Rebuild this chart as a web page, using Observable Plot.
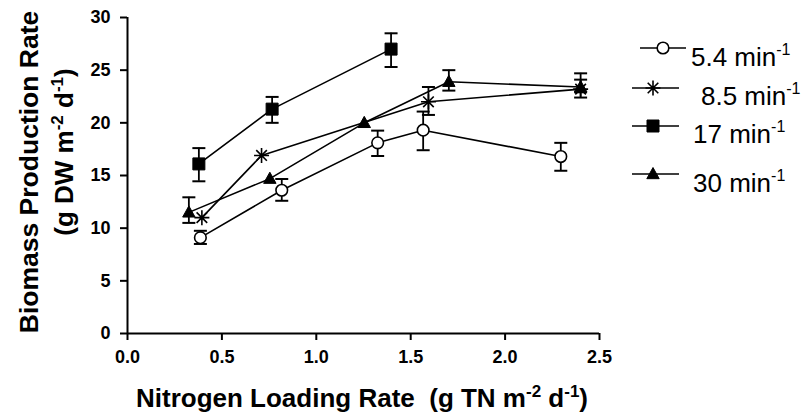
<!DOCTYPE html>
<html><head><meta charset="utf-8">
<script src="https://cdn.jsdelivr.net/npm/d3@7"></script>
<script src="https://cdn.jsdelivr.net/npm/@observablehq/plot@0.6"></script>
<style>
body{margin:0;background:#fff}
</style>
</head><body><div id="chart"></div>
<script>
// ---- data ----
const seriesNames = ["5.4", "8.5", "17", "30"];
const xTicks = [0, 0.5, 1.0, 1.5, 2.0, 2.5];
const yTicks = [0, 5, 10, 15, 20, 25, 30];

const x54 = [0.386, 0.817, 1.325, 1.566, 2.295];
const y54 = [9.1, 13.6, 18.1, 19.3, 16.8];
const lo54 = [8.5, 12.6, 16.85, 17.4, 15.45];
const hi54 = [9.75, 14.67, 19.26, 21.07, 18.1];

const x85 = [0.394, 0.71, 1.594, 2.40];
const y85 = [11.0, 16.9, 22.0, 23.2];
const lo85 = [null, null, 20.75, 22.9];
const hi85 = [null, null, 23.4, 24.1];

const x17 = [0.378, 0.766, 1.396];
const y17 = [16.1, 21.3, 27.0];
const lo17 = [14.45, 20.0, 25.3];
const hi17 = [17.6, 22.46, 28.5];

const x30 = [0.325, 0.754, 1.254, 1.702, 2.40];
const y30 = [11.5, 14.7, 20.0, 23.9, 23.4];
const lo30 = [10.5, null, null, 23.06, 22.4];
const hi30 = [12.93, null, null, 25.0, 24.7];

function rowsOf(name, xs, ys, lo, hi) {
  return xs.map((x, i) => ({series: name, x, y: ys[i], lo: lo[i], hi: hi[i]}));
}
const r54 = rowsOf("5.4", x54, y54, lo54, hi54);
const r85 = rowsOf("8.5", x85, y85, lo85, hi85);
const r17 = rowsOf("17", x17, y17, lo17, hi17);
const r30 = rowsOf("30", x30, y30, lo30, hi30);
const allRows = [...r54, ...r85, ...r17, ...r30];
const errRows = allRows.filter(d => d.lo != null);

// ---- custom symbols (r = half size in px) ----
function sym(kind) {
  return {draw(ctx, size) {
    const r = Math.sqrt(size / Math.PI);
    if (kind === "circle") { ctx.moveTo(r, 0); ctx.arc(0, 0, r, 0, 2 * Math.PI); }
    else if (kind === "square") { ctx.rect(-r, -r, 2 * r, 2 * r); }
    else if (kind === "triangle") { const h = r * 1.8; ctx.moveTo(0, -h * 0.58); ctx.lineTo(r, h * 0.42); ctx.lineTo(-r, h * 0.42); ctx.closePath(); }
    else if (kind === "asterisk") {
      for (let k = 0; k < 4; k++) { const a = k * Math.PI / 4; ctx.moveTo(-r * Math.cos(a), -r * Math.sin(a)); ctx.lineTo(r * Math.cos(a), r * Math.sin(a)); }
    }
    else if (kind === "hline") { ctx.moveTo(-r, 0); ctx.lineTo(r, 0); }
  }};
}
const styles = {
  "5.4": {symbol: sym("circle"), r: 5.8, fill: "white", stroke: "black", strokeWidth: 1.6},
  "8.5": {symbol: sym("asterisk"), r: 7.5, fill: "none", stroke: "black", strokeWidth: 1.6},
  "17": {symbol: sym("square"), r: 6, fill: "black", stroke: "black", strokeWidth: 1},
  "30": {symbol: sym("triangle"), r: 6.2, fill: "black", stroke: "black", strokeWidth: 1}
};
const seriesRows = {"5.4": r54, "8.5": r85, "17": r17, "30": r30};

const font = "'Liberation Sans', Arial, sans-serif";
const chart = Plot.plot({
  width: 803, height: 416,
  marginLeft: 127, marginRight: 204, marginTop: 17, marginBottom: 83,
  style: {fontFamily: font, fontSize: "18px", fontWeight: "bold", color: "black", background: "white", overflow: "visible"},
  x: {domain: [0, 2.5]},
  y: {domain: [0, 30]},
  marks: [
    Plot.axisX({ticks: xTicks, tickFormat: d3.format(".1f"), tickSize: 7, tickPadding: 10, strokeWidth: 2, label: null}),
    Plot.axisY({ticks: yTicks, tickSize: 7, tickPadding: 10, strokeWidth: 2, label: null}),
    Plot.ruleX([0], {strokeWidth: 2}),
    Plot.ruleY([0], {strokeWidth: 2}),
    Plot.line(allRows, {x: "x", y: "y", z: "series", stroke: "black", strokeWidth: 1.6}),
    Plot.ruleX(errRows, {x: "x", y1: "lo", y2: "hi", stroke: "black", strokeWidth: 1.8}),
    Plot.dot(errRows, {x: "x", y: "lo", symbol: sym("hline"), r: 6.5, stroke: "black", strokeWidth: 2}),
    Plot.dot(errRows, {x: "x", y: "hi", symbol: sym("hline"), r: 6.5, stroke: "black", strokeWidth: 2}),
    ...seriesNames.map(s => Plot.dot(seriesRows[s], {x: "x", y: "y", ...styles[s]}))
  ]
});
document.getElementById("chart").appendChild(chart);

// force tick label font
const svg = d3.select(chart);
svg.selectAll("text").style("font-size", "18px").style("font-weight", "bold").style("font-family", font);
svg.selectAll("text").each(function() { this.parentNode && d3.select(this.parentNode).style("font-size", "18px"); });

// ---- titles & legend ----
function supText(sel, parts, supSize, raise) {
  let pending = 0;
  parts.forEach(p => {
    const ts = sel.append("tspan").text(p.t);
    if (p.sup) { ts.attr("font-size", supSize).attr("dy", pending - raise); pending = raise; }
    else { if (pending) ts.attr("dy", pending); pending = 0; }
  });
}
const xt = svg.append("text").attr("x", 136).attr("y", 407).attr("text-anchor", "start")
  .attr("font-family", font).attr("font-weight", "bold").attr("font-size", 26)
  .style("white-space", "pre");
supText(xt, [{t: "Nitrogen Loading Rate  (g TN m"}, {t: "-2", sup: true}, {t: " d"}, {t: "-1", sup: true}, {t: ")"}], 17, 10);

svg.append("text").attr("transform", "translate(38,172) rotate(-90)")
  .attr("text-anchor", "middle").attr("font-family", font).attr("font-weight", "bold").attr("font-size", 26.5)
  .text("Biomass Production Rate");
const yt2 = svg.append("text").attr("transform", "translate(73,152) rotate(-90)")
  .attr("text-anchor", "middle").attr("font-family", font).attr("font-weight", "bold").attr("font-size", 26)
  .style("white-space", "pre");
supText(yt2, [{t: "(g DW m"}, {t: "-2", sup: true}, {t: " d"}, {t: "-1", sup: true}, {t: ")"}], 17, 10);

const legendItems = [
  {s: "5.4", x1: 640, x2: 686, mx: 663, y: 48, tx: 691, ty: 66, label: "5.4 min"},
  {s: "8.5", x1: 632, x2: 679, mx: 653, y: 88, tx: 701, ty: 105, label: "8.5 min"},
  {s: "17", x1: 632, x2: 679, mx: 653, y: 126, tx: 693, ty: 143, label: "17 min"},
  {s: "30", x1: 632, x2: 679, mx: 653, y: 174, tx: 693, ty: 192, label: "30 min"}
];
const lg = svg.append("g");
legendItems.forEach(it => {
  const st = styles[it.s];
  lg.append("line").attr("x1", it.x1).attr("x2", it.x2).attr("y1", it.y).attr("y2", it.y)
    .attr("stroke", "black").attr("stroke-width", 1.6);
  lg.append("path").attr("d", d3.symbol(st.symbol, st.r * st.r * Math.PI)())
    .attr("transform", `translate(${it.mx},${it.y})`)
    .attr("fill", st.fill).attr("stroke", st.stroke).attr("stroke-width", st.strokeWidth);
  const t = lg.append("text").attr("x", it.tx).attr("y", it.ty).attr("text-anchor", "start")
    .attr("font-family", font).attr("font-size", 26).attr("font-weight", "normal");
  supText(t, [{t: it.label}, {t: "-1", sup: true}], 16, 11);
});
</script>
</body></html>
